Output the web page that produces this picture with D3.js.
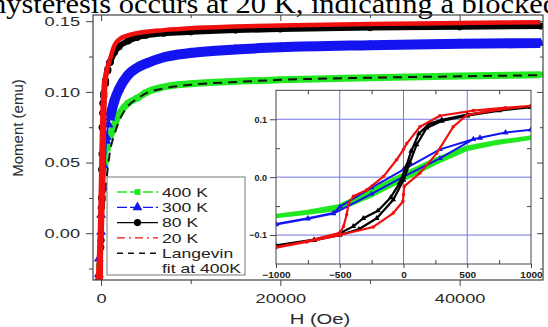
<!DOCTYPE html>
<html>
<head>
<meta charset="utf-8">
<script src="https://cdn.jsdelivr.net/npm/d3@7"></script>
<style>
  html, body { margin: 0; padding: 0; background: #fff; overflow: hidden; }
  svg { display: block; }
</style>
</head>
<body>
<div id="chart"></div>
<script>
// ---- high field part (Oe / emu) ----
var hHigh    = [1000, 1500, 2000, 3000, 4000, 5000, 7000, 10000, 15000, 20000, 30000, 40000, 49000];
var m20High  = [0.123, 0.133, 0.137, 0.140, 0.1415, 0.1425, 0.1437, 0.145, 0.1462, 0.147, 0.148, 0.1487, 0.1493];
var m80High  = [0.121, 0.128, 0.132, 0.136, 0.1385, 0.140, 0.1415, 0.1425, 0.1437, 0.1445, 0.1455, 0.146, 0.1466];
var m300High = [0.082, 0.094, 0.102, 0.112, 0.117, 0.120, 0.1245, 0.1275, 0.130, 0.1315, 0.133, 0.134, 0.1345];
var m400High = [0.068, 0.077, 0.084, 0.092, 0.0955, 0.0995, 0.1035, 0.1058, 0.1075, 0.1085, 0.110, 0.1112, 0.1122];

// Langevin fit at 400 K
var fitH = [-900, -500, 0, 500, 1000, 1500, 2000, 3000, 4000, 5000, 7000, 10000, 15000, 20000, 30000, 40000, 49000];
var fitM = [-0.055, -0.032, 0, 0.032, 0.058, 0.070, 0.079, 0.090, 0.095, 0.099, 0.1025, 0.105, 0.107, 0.1085, 0.110, 0.111, 0.1118];

// ---- low field loops (field going down, then going up) ----
var h400Desc = [1000, 750, 500, 250, 0, -250, -500, -750, -1000];
var m400Desc = [0.068, 0.061, 0.051, 0.030, 0.004, -0.023, -0.050, -0.060, -0.067];
var h400Asc  = [-1000, -750, -500, -250, 0, 250, 500, 750, 1000];
var m400Asc  = [-0.067, -0.061, -0.054, -0.031, -0.003, 0.025, 0.049, 0.060, 0.068];

var h300Desc = [1000, 800, 600, 548, 286, 0, -250, -498, -550, -750, -1000];
var m300Desc = [0.082, 0.077, 0.068, 0.0655, 0.048, 0.013, -0.018, -0.051, -0.062, -0.071, -0.081];
var h300Asc  = [-1000, -750, -550, -250, 0, 286, 548, 600, 800, 1000];
var m300Asc  = [-0.082, -0.072, -0.063, -0.029, 0.001, 0.0325, 0.0655, 0.068, 0.077, 0.082];

var h80Desc = [1000, 750, 500, 300, 200, 120, 60, 20, -30, -100, -200, -315, -394, -500, -700, -1000];
var m80Desc = [0.121, 0.116, 0.108, 0.099, 0.092, 0.075, 0.045, 0.018, -0.010, -0.035, -0.058, -0.071, -0.085, -0.097, -0.108, -0.118];
var h80Asc  = [-1000, -700, -500, -350, -210, -80, 0, 50, 103, 182, 300, 500, 750, 1000];
var m80Asc  = [-0.119, -0.109, -0.100, -0.090, -0.071, -0.039, -0.005, 0.025, 0.056, 0.085, 0.097, 0.106, 0.115, 0.121];

var h20Desc = [1000, 800, 548, 286, 129, 25, 0, -54, -158, -288, -393, -430, -446, -470, -498, -760, -1000];
var m20Desc = [0.123, 0.120, 0.115, 0.106, 0.087, 0.058, 0.048, 0.030, 0.001, -0.022, -0.033, -0.045, -0.065, -0.085, -0.096, -0.111, -0.121];
var h20Asc  = [-1000, -760, -498, -237, -80, -5, 0, 5, 129, 260, 390, 496, 757, 1000];
var m20Asc  = [-0.122, -0.112, -0.100, -0.086, -0.062, -0.042, -0.030, -0.016, 0.007, 0.041, 0.087, 0.107, 0.117, 0.123];

// ---- ticks / labels ----
var yTicksMain = [0, 0.05, 0.10, 0.15];
var yMinorMain = [-0.025, 0.025, 0.075, 0.125];
var xTicksMain = [0, 20000, 40000];
var xMinorMain = [10000, 30000];
var xTicksInset = [-1000, -500, 0, 500, 1000];
var xMinorInset = [-750, -250, 250, 750];
var yTicksInset = [-0.1, 0, 0.1];
var yMinorInset = [-0.05, 0.05];
var legendNames = ['400 K', '300 K', '80 K', '20 K'];
var titleText = 'hysteresis occurs at 20 K, indicating a blocked';

function pts(h, m) { return h.map(function (d, i) { return [d, m[i]]; }); }

var series = [
  { name: legendNames[0], color: '#22e822', sym: d3.symbolSquare, size: 34, dash: '7,3', band: 7, inW: 4.5,
    loop: pts(h400Desc, m400Desc).concat(pts(h400Asc, m400Asc)), high: pts(hHigh, m400High) },
  { name: legendNames[1], color: '#1414f0', sym: d3.symbolTriangle, size: 42, dash: '7,3', band: 10, inW: 2,
    loop: pts(h300Desc, m300Desc).concat(pts(h300Asc, m300Asc)), high: pts(hHigh, m300High) },
  { name: legendNames[2], color: '#000000', sym: d3.symbolCircle, size: 40, dash: null, band: 6, inW: 2.2,
    loop: pts(h80Desc, m80Desc).concat(pts(h80Asc, m80Asc)), high: pts(hHigh, m80High) },
  { name: legendNames[3], color: '#f01010', sym: null, size: 0, dash: '8,3,2,3', band: 4.5, inW: 2.2,
    loop: pts(h20Desc, m20Desc).concat(pts(h20Asc, m20Asc)), high: pts(hHigh, m20High) }
];

var W = 548, H = 327;
var sx = 1.35; // labels in the picture are stretched horizontally
var svg = d3.select('#chart').append('svg').attr('width', W).attr('height', H)
  .style('font-family', 'Liberation Sans, Arial, sans-serif');

/* title line (cut by the top edge) */
svg.append('text')
  .attr('x', -9).attr('y', 13)
  .attr('font-family', 'Liberation Serif, Times New Roman, serif')
  .attr('font-size', 27)
  .attr('textLength', 567).attr('lengthAdjust', 'spacingAndGlyphs')
  .attr('fill', '#000')
  .text(titleText);

/* main plot */
var plot = { left: 93, right: 543, top: 15, bottom: 280 };
var x = d3.scaleLinear().domain([-900, 49300]).range([plot.left, plot.right]);
var y = d3.scaleLinear().domain([-0.0331, 0.1544]).range([plot.bottom, plot.top]);

svg.append('clipPath').attr('id', 'clipMain').append('rect')
  .attr('x', plot.left).attr('y', plot.top)
  .attr('width', plot.right - plot.left).attr('height', plot.bottom - plot.top);

var main = svg.append('g').attr('clip-path', 'url(#clipMain)');
var line = d3.line().x(d => x(d[0])).y(d => y(d[1]));

series.forEach(function (s, i) {
  var g = main.append('g').attr('class', 'series');
  g.append('path').datum(s.high)
    .attr('d', line.curve(d3.curveMonotoneX))
    .attr('fill', 'none').attr('stroke', s.color)
    .attr('stroke-width', s.band).attr('stroke-linejoin', 'round');
  g.append('path').datum(s.loop)
    .attr('d', line.curve(d3.curveLinear))
    .attr('fill', 'none').attr('stroke', s.color)
    .attr('stroke-width', i == 3 ? 4 : 2);
  if (s.sym) {
    g.selectAll('path.mk').data(s.loop.concat(s.high)).enter()
      .append('path').attr('class', 'mk')
      .attr('transform', d => `translate(${x(d[0])},${y(d[1])})`)
      .attr('d', d3.symbol().type(s.sym).size(s.size))
      .attr('fill', s.color);
  }
  // fit line sits over the 400 K data
  if (i == 0) {
    main.append('path').datum(pts(fitH, fitM))
      .attr('d', line.curve(d3.curveMonotoneX))
      .attr('fill', 'none').attr('stroke', '#111')
      .attr('stroke-width', 2).attr('stroke-dasharray', '9,6');
  }
});

/* main axes */
function styleText(sel, size) {
  sel.selectAll('text').attr('font-size', size).attr('fill', '#2a2a2a')
    .attr('font-family', 'Liberation Sans, Arial, sans-serif');
}
var yAx = svg.append('g').attr('transform', `translate(${plot.left},0)`)
  .call(d3.axisLeft(y).tickValues(yTicksMain).tickFormat(d3.format('.2f')).tickSize(7).tickPadding(6));
styleText(yAx, 13.5);
yAx.selectAll('text').attr('x', -13 / sx).attr('transform', `scale(${sx},1)`);
svg.append('g').attr('transform', `translate(${plot.left},0)`)
  .call(d3.axisLeft(y).tickValues(yMinorMain).tickFormat('').tickSize(4));

var xAx = svg.append('g').attr('transform', `translate(0,${plot.bottom})`)
  .call(d3.axisBottom(x).tickValues(xTicksMain).tickFormat(d3.format('d')).tickSize(6).tickPadding(7));
styleText(xAx, 13.5);
xAx.selectAll('text').attr('transform', `scale(${sx},1)`);
svg.append('g').attr('transform', `translate(0,${plot.bottom})`)
  .call(d3.axisBottom(x).tickValues(xMinorMain).tickFormat('').tickSize(4));

// mirrored ticks, pointing in
svg.append('g').attr('transform', `translate(0,${plot.top})`)
  .call(d3.axisBottom(x).tickValues(xTicksMain).tickFormat('').tickSize(6));
svg.append('g').attr('transform', `translate(0,${plot.top})`)
  .call(d3.axisBottom(x).tickValues(xMinorMain).tickFormat('').tickSize(3));
svg.append('g').attr('transform', `translate(${plot.right},0)`)
  .call(d3.axisLeft(y).tickValues(yTicksMain).tickFormat('').tickSize(6));
svg.append('g').attr('transform', `translate(${plot.right},0)`)
  .call(d3.axisLeft(y).tickValues(yMinorMain).tickFormat('').tickSize(3));
svg.selectAll('.domain').remove();
svg.selectAll('.tick line').attr('stroke', '#444');

svg.append('rect')
  .attr('x', plot.left).attr('y', plot.top)
  .attr('width', plot.right - plot.left).attr('height', plot.bottom - plot.top)
  .attr('fill', 'none').attr('stroke', '#444').attr('stroke-width', 1.2);

// axis titles
svg.append('text')
  .attr('transform', 'translate(23,128) rotate(-90)')
  .attr('text-anchor', 'middle').attr('font-size', 15).attr('fill', '#2a2a2a')
  .text('Moment (emu)');
svg.append('text')
  .attr('transform', `translate(320,324) scale(${sx},1)`)
  .attr('text-anchor', 'middle').attr('font-size', 15).attr('fill', '#2a2a2a')
  .text('H (Oe)');

/* legend */
var leg = svg.append('g');
leg.append('rect').attr('x', 107).attr('y', 177).attr('width', 138).attr('height', 98)
  .attr('fill', '#fff').attr('stroke', '#777').attr('stroke-width', 1);
var legRows = series.map(s => s).concat([{ name: 'Langevin', color: '#111', sym: null, dash: '6,5', fit: true }]);
legRows.forEach(function (s, i) {
  var cy = 192 + i * 15.3;
  var r = leg.append('g').attr('transform', `translate(0,${cy})`);
  r.append('line').attr('x1', 117).attr('x2', 158).attr('y1', 0).attr('y2', 0)
    .attr('stroke', s.color).attr('stroke-width', s.fit ? 1.6 : 1.3)
    .attr('stroke-dasharray', s.dash ? (s.fit ? '6,5' : (i == 3 ? '8,4,2,4' : '10,3')) : null);
  if (s.sym) {
    r.append('path').attr('transform', 'translate(137.5,0)')
      .attr('d', d3.symbol().type(s.sym).size(s.size)).attr('fill', s.color);
  }
  r.append('text').attr('transform', `translate(162,4.6) scale(${sx},1)`)
    .attr('font-size', 13).attr('fill', '#222').text(s.name);
});
leg.append('text').attr('transform', `translate(162,${192 + 5 * 15.3 + 4.6}) scale(${sx},1)`)
  .attr('font-size', 13).attr('fill', '#222').text('fit at 400K');

/* inset */
var ins = { left: 276, right: 531, top: 90.3, bottom: 264 };
var xi = d3.scaleLinear().domain([-1000, 1000]).range([ins.left, ins.right]);
var yi = d3.scaleLinear().domain([-0.15, 0.15]).range([ins.bottom, ins.top]);
svg.append('rect').attr('x', ins.left).attr('y', ins.top)
  .attr('width', ins.right - ins.left).attr('height', ins.bottom - ins.top).attr('fill', '#fff');

var grid = svg.append('g');
xTicksInset.slice(1, -1).forEach(function (v) {
  grid.append('line').attr('x1', xi(v)).attr('x2', xi(v)).attr('y1', ins.top).attr('y2', ins.bottom)
    .attr('stroke', '#7474e4').attr('stroke-width', 1);
});
yTicksInset.forEach(function (v) {
  grid.append('line').attr('y1', yi(v)).attr('y2', yi(v)).attr('x1', ins.left).attr('x2', ins.right)
    .attr('stroke', '#7474e4').attr('stroke-width', 1);
});

svg.append('clipPath').attr('id', 'clipIns').append('rect')
  .attr('x', ins.left).attr('y', ins.top)
  .attr('width', ins.right - ins.left).attr('height', ins.bottom - ins.top);
var insG = svg.append('g').attr('clip-path', 'url(#clipIns)');
var lineI = d3.line().x(d => xi(d[0])).y(d => yi(d[1]));
series.forEach(function (s, i) {
  insG.append('path').datum(s.loop).attr('d', lineI)
    .attr('fill', 'none').attr('stroke', s.color).attr('stroke-width', s.inW)
    .attr('stroke-linejoin', 'round');
  if (i > 0) {
    insG.selectAll(null).data(s.loop).enter().append('path')
      .attr('transform', d => `translate(${xi(d[0])},${yi(d[1])})`)
      .attr('d', d3.symbol().type(i == 3 ? d3.symbolCircle : d3.symbolTriangle).size(i == 3 ? 10 : 14))
      .attr('fill', s.color);
  }
});

var xiAx = svg.append('g').attr('transform', `translate(0,${ins.bottom})`)
  .call(d3.axisBottom(xi).tickValues(xTicksInset).tickFormat(d3.format('d')).tickSize(4).tickPadding(4));
xiAx.selectAll('text').attr('font-size', 9).attr('font-weight', 'bold').attr('fill', '#222')
  .attr('transform', 'scale(1.12,1)');
svg.append('g').attr('transform', `translate(0,${ins.bottom})`)
  .call(d3.axisTop(xi).tickValues(xMinorInset).tickFormat('').tickSize(4));
svg.append('g').attr('transform', `translate(0,${ins.top})`)
  .call(d3.axisBottom(xi).tickValues(xMinorInset).tickFormat('').tickSize(4));
var yiAx = svg.append('g').attr('transform', `translate(${ins.left},0)`)
  .call(d3.axisLeft(yi).tickValues(yTicksInset).tickFormat(d3.format('.1f')).tickSize(6).tickPadding(3));
yiAx.selectAll('text').attr('font-size', 9).attr('font-weight', 'bold').attr('fill', '#222');
svg.append('g').attr('transform', `translate(${ins.left},0)`)
  .call(d3.axisRight(yi).tickValues(yMinorInset).tickFormat('').tickSize(4));
svg.append('g').attr('transform', `translate(${ins.right},0)`)
  .call(d3.axisLeft(yi).tickValues(yMinorInset).tickFormat('').tickSize(4));
svg.selectAll('.domain').remove();
svg.selectAll('.tick line').attr('stroke', '#444');
svg.append('rect').attr('x', ins.left).attr('y', ins.top)
  .attr('width', ins.right - ins.left).attr('height', ins.bottom - ins.top)
  .attr('fill', 'none').attr('stroke', '#444').attr('stroke-width', 1);
</script>
</body>
</html>
